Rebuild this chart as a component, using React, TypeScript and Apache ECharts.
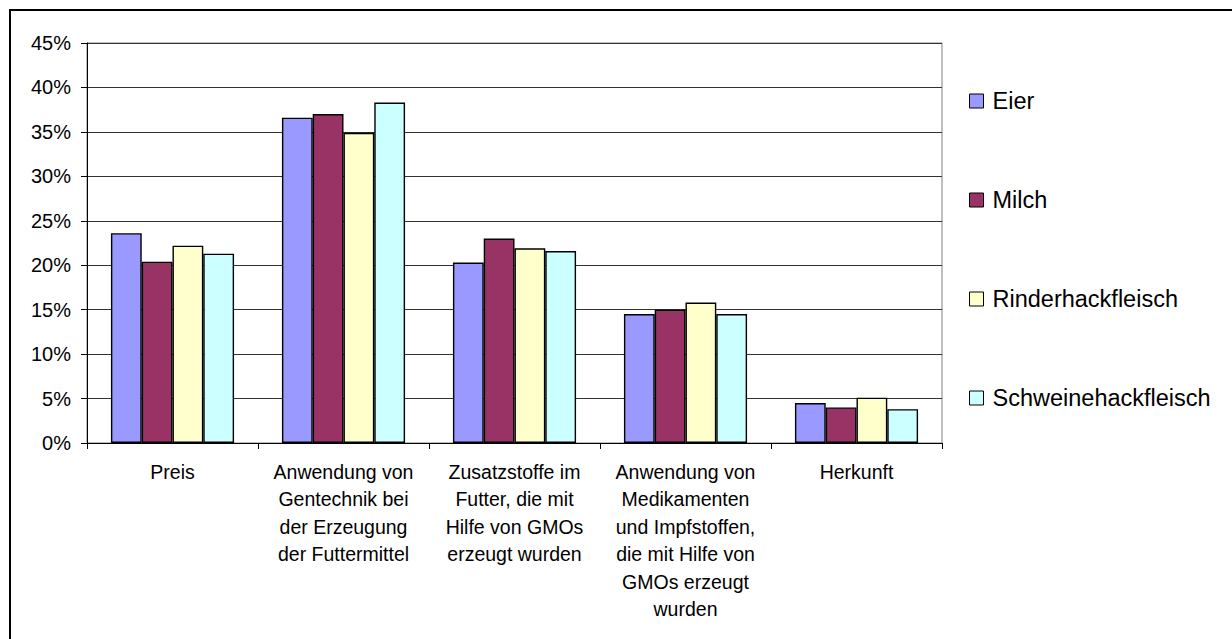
import React, { useEffect, useRef } from "react";
import * as echarts from "echarts";

const categories = [
  "Preis",
  "Anwendung von\nGentechnik bei\nder Erzeugung\nder Futtermittel",
  "Zusatzstoffe im\nFutter, die mit\nHilfe von GMOs\nerzeugt wurden",
  "Anwendung von\nMedikamenten\nund Impfstoffen,\ndie mit Hilfe von\nGMOs erzeugt\nwurden",
  "Herkunft",
];
const seriesNames = ["Eier", "Milch", "Rinderhackfleisch", "Schweinehackfleisch"];
const eier = [23.6, 36.6, 20.3, 14.5, 4.5];
const milch = [20.4, 37.0, 23.0, 15.0, 4.0];
const rinder = [22.2, 34.9, 21.9, 15.8, 5.1];
const schweine = [21.3, 38.3, 21.6, 14.5, 3.8];
const colors = ["#9999FF", "#993366", "#FFFFCC", "#CCFFFF"];

const FONT = "'Liberation Sans', Arial, sans-serif";

export default function App() {
  const ref = useRef<HTMLDivElement>(null);
  useEffect(() => {
    if (!ref.current) return;
    const chart = echarts.init(ref.current, undefined, { renderer: "svg" });
    const values = [eier, milch, rinder, schweine];
    chart.setOption({
      animation: false,
      backgroundColor: "#fff",
      textStyle: { fontFamily: FONT },
      graphic: [
        {
          type: "rect",
          shape: { x: 10, y: 10, width: 1240, height: 650 },
          style: { fill: "none", stroke: "#000", lineWidth: 2 },
          silent: true,
        },
      ],
      grid: {
        left: 87,
        top: 43,
        right: 290,
        bottom: 196,
        show: true,
        borderColor: "#808080",
        borderWidth: 1,
        backgroundColor: "transparent",
      },
      legend: {
        orient: "vertical",
        left: 969,
        top: 89,
        padding: 0,
        itemGap: 75,
        itemWidth: 14,
        itemHeight: 14,
        icon: "rect",
        itemStyle: { borderColor: "#000", borderWidth: 1 },
        textStyle: {
          fontFamily: FONT,
          fontSize: 23.5,
          lineHeight: 23,
          color: "#000",
          padding: [0, 0, 0, 4],
        },
        data: seriesNames,
      },
      xAxis: {
        type: "category",
        data: categories,
        axisLine: { lineStyle: { color: "#000", width: 1 } },
        axisTick: { show: true, length: 6, lineStyle: { color: "#000" } },
        axisLabel: {
          interval: 0,
          fontFamily: FONT,
          fontSize: 19.5,
          lineHeight: 27.5,
          color: "#000",
          margin: 15,
          verticalAlign: "top",
        },
      },
      yAxis: {
        type: "value",
        min: 0,
        max: 45,
        interval: 5,
        axisLine: { show: true, lineStyle: { color: "#000", width: 1 } },
        axisTick: { show: true, length: 6, lineStyle: { color: "#000" } },
        axisLabel: {
          formatter: "{value}%",
          fontFamily: FONT,
          fontSize: 20,
          color: "#000",
          margin: 16,
        },
        splitLine: { lineStyle: { color: "#333", width: 1 } },
      },
      series: seriesNames.map((name, i) => ({
        name,
        type: "bar",
        data: values[i],
        barGap: "0%",
        barCategoryGap: "28%",
        itemStyle: { color: colors[i], borderColor: "#000", borderWidth: 1.4 },
      })),
    });
    return () => chart.dispose();
  }, []);
  return (
    <div
      ref={ref}
      style={{ position: "fixed", left: 0, top: 0, width: 1232, height: 639 }}
    />
  );
}
